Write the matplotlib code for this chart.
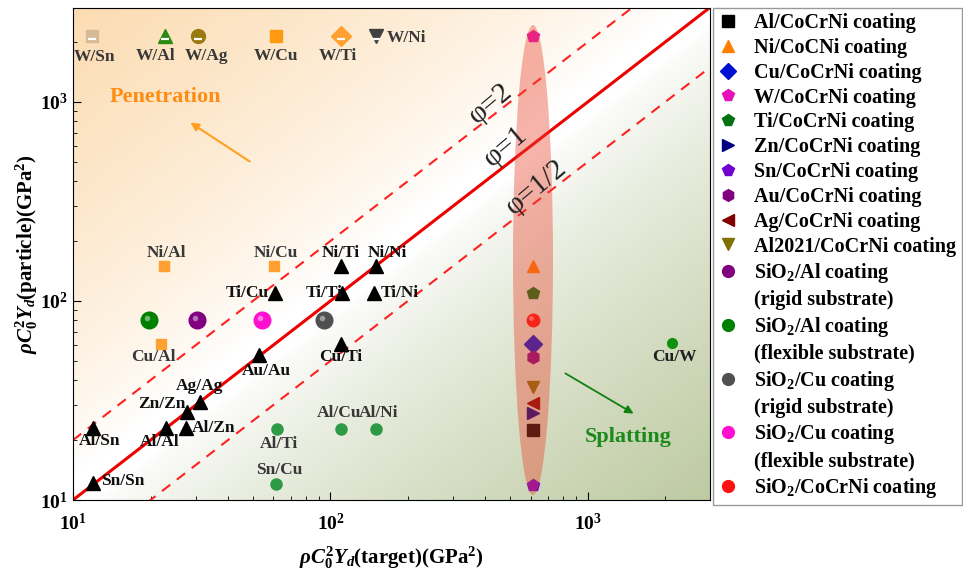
import numpy as np
import matplotlib
matplotlib.use('Agg')
import matplotlib.pyplot as plt
from matplotlib.lines import Line2D
from matplotlib.patches import Ellipse
from matplotlib.transforms import offset_copy

plt.rcParams['font.family'] = ['Liberation Serif', 'DejaVu Serif']
plt.rcParams['mathtext.fontset'] = 'custom'
plt.rcParams['mathtext.rm'] = 'Liberation Serif:bold'
plt.rcParams['mathtext.it'] = 'Liberation Serif:italic:bold'
plt.rcParams['mathtext.bf'] = 'Liberation Serif:bold'

# ---- data (target, particle) in GPa^2 ----
tri_labels = ['Ni/Ti', 'Ni/Ni', 'Ti/Cu', 'Ti/Ti', 'Ti/Ni', 'Cu/Ti', 'Au/Au',
              'Ag/Ag', 'Zn/Zn', 'Al/Zn', 'Al/Al', 'Al/Sn', 'Sn/Sn']
tri_x = [110, 150, 61, 111, 148, 110, 53, 31, 27.8, 27.5, 23, 12, 12]
tri_y = [150, 150, 110, 110, 110, 61, 53.5, 31, 27.8, 22.9, 22.9, 22.9, 12.2]

sq_labels = ['Ni/Al', 'Ni/Cu', 'Cu/Al']
sq_x = [22.6, 60.5, 22]
sq_y = [150, 150, 61]

dot_labels = ['Al/Ti', 'Al/Cu', 'Al/Ni', 'Sn/Cu', 'Cu/W']
dot_x = [62, 110, 150, 61.4, 2130]
dot_y = [22.7, 22.7, 22.7, 12, 61.6]

w_labels = ['W/Sn', 'W/Al', 'W/Ag', 'W/Cu', 'W/Ti', 'W/Ni']
w_x = [11.9, 22.8, 30.5, 61.4, 110, 150]
w_y = [2150, 2150, 2150, 2150, 2150, 2150]

sio2_names = ['SiO2/Al flexible', 'SiO2/Al rigid', 'SiO2/Cu flexible', 'SiO2/Cu rigid']
sio2_x = [19.7, 30.4, 54, 94.5]
sio2_y = [80, 80, 80, 80]

# CoCrNi coatings (all on the same target)
coat_names = ['Al', 'Ni', 'Cu', 'W', 'Ti', 'Zn', 'Sn', 'Au', 'Ag', 'Al2021', 'SiO2']
coat_x = 610
coat_y = [22.5, 150, 61, 2130, 109, 27.3, 11.9, 52.5, 30.6, 37, 80]

phi_values = [2, 1, 0.5]

# ---- styles ----
coat_style = {
    'Al': ('s', 'black'), 'Ni': ('^', '#ff7f00'), 'Cu': ('D', '#0010d0'),
    'W': ('p', '#e810b8'), 'Ti': ('p', '#007010'), 'Zn': ('>', '#000080'),
    'Sn': ('p', '#7000d0'), 'Au': ('h', '#800080'), 'Ag': ('<', '#800000'),
    'Al2021': ('v', '#807000'), 'SiO2': ('o', '#ff1010'),
}
sio2_color = {'SiO2/Al flexible': '#008000', 'SiO2/Al rigid': '#800080',
              'SiO2/Cu flexible': '#ff10d0', 'SiO2/Cu rigid': '#505050'}
w_style = [('s', '#d5bb98'), ('^', '#2a8a10'), ('o', '#9a7a10'),
           ('s', '#ff9a10'), ('D', '#ffa030'), ('v', '#404040')]

tri_off = {'Ni/Ti': (0, 13, 'center'), 'Ni/Ni': (12, 13, 'center'),
           'Ti/Cu': (-6, 0, 'right'), 'Ti/Ti': (0, 0, 'right'),
           'Ti/Ni': (6, 0, 'left'), 'Cu/Ti': (0, -13, 'center'),
           'Au/Au': (7, -16, 'center'), 'Ag/Ag': (0, 16, 'center'),
           'Zn/Zn': (-2, 8, 'right'), 'Al/Zn': (6, 0, 'left'),
           'Al/Al': (-6, -14, 'center'), 'Al/Sn': (6, -13, 'center'),
           'Sn/Sn': (8, 2, 'left')}
sq_off = {'Ni/Al': (2, 13), 'Ni/Cu': (2, 13), 'Cu/Al': (-8, -13)}
dot_off = {'Al/Ti': (2, -15), 'Al/Cu': (-2, 16), 'Al/Ni': (3, 16),
           'Sn/Cu': (3, 14), 'Cu/W': (2, -14)}
w_off = [(2, -21, 'center'), (-10, -20, 'center'), (9, -20, 'center'),
         (0, -20, 'center'), (-3, -20, 'center'), (11, -2, 'left')]

gray = '#383838'

fig = plt.figure(figsize=(9.63, 5.71), dpi=100)
ax = fig.add_axes([73 / 963, 71 / 571, 637 / 963, 492 / 571])
xmin, xmax = 10, 2980
ymin, ymax = 10, 2960
ax.set_xscale('log')
ax.set_yscale('log')
ax.set_xlim(xmin, xmax)
ax.set_ylim(ymin, ymax)

# background gradient (orange top-left, white along diagonal, olive bottom-right)
n = 300
u, v = np.meshgrid(np.linspace(0, 1, n), np.linspace(0, 1, n))
t = v - u
img = np.ones((n, n, 3))
orange = np.array([252, 220, 178]) / 255
green = np.array([190, 202, 162]) / 255
wo = np.clip((t - 0.05) / 0.95, 0, 1) ** 0.75
wg = np.clip((-t - 0.03) / 0.97, 0, 1) ** 0.75
for c in range(3):
    img[..., c] = 1 - wo * (1 - orange[c]) - wg * (1 - green[c])
ax.imshow(img, extent=[0, 1, 0, 1], transform=ax.transAxes, origin='lower',
          aspect='auto', zorder=0, interpolation='bilinear')

# phi lines
xs = np.array([xmin, xmax])
for phi in phi_values:
    if phi == 1:
        ax.plot(xs, xs * phi, color='#ee0000', lw=2.2, zorder=2)
    else:
        ax.plot(xs, xs * phi, color='#ff2020', lw=1.5, ls=(0, (5, 4)), zorder=2)

for txt, px, py in [('φ=2', 491, 104), ('φ=1', 506, 147), ('φ=1/2', 537, 187)]:
    fig.text(px / 963, 1 - py / 571, txt, fontsize=21, rotation=40,
             ha='center', va='center', color='#202020')

lab_kw = dict(textcoords='offset pixels', fontsize=12.5, fontweight='bold', va='center', zorder=6)

# black triangles
ax.plot(tri_x, tri_y, '^', color='black', ms=10, ls='none', zorder=5)
for lab, x, y in zip(tri_labels, tri_x, tri_y):
    dx, dy, ha = tri_off[lab]
    ax.annotate(lab, (x, y), xytext=(dx, dy), ha=ha, color='#101010', **lab_kw)

# orange squares
ax.plot(sq_x, sq_y, 's', color='#ffa030', ms=7.5, ls='none', zorder=5)
for lab, x, y in zip(sq_labels, sq_x, sq_y):
    dx, dy = sq_off[lab]
    ax.annotate(lab, (x, y), xytext=(dx, dy), ha='center', color=gray, **lab_kw)

# green dots
ax.plot(dot_x[:-1], dot_y[:-1], 'o', color='#2e9a45', ms=8, ls='none', zorder=5)
ax.plot(dot_x[-1:], dot_y[-1:], 'o', color='#109010', ms=7, ls='none', zorder=5)
for lab, x, y in zip(dot_labels, dot_x, dot_y):
    dx, dy = dot_off[lab]
    col = '#202020' if lab == 'Cu/W' else gray
    ax.annotate(lab, (x, y), xytext=(dx, dy), ha='center', color=col, **lab_kw)

# W particles (top row)
down = offset_copy(ax.transData, fig=fig, x=0, y=-3, units='dots')
for (m, col), lab, x, y, (dx, dy, ha) in zip(w_style, w_labels, w_x, w_y, w_off):
    ax.plot([x], [y], m, color=col, ms=10 if m != 's' else 9, zorder=5)
    if lab != 'W/Cu':
        ax.plot([x], [y], '_', color='white', ms=6, mew=1.6, transform=down, zorder=6)
    ax.annotate(lab, (x, y), xytext=(dx, dy), ha=ha, color=gray, **lab_kw)

# SiO2 spheres
hl = offset_copy(ax.transData, fig=fig, x=-2, y=2, units='dots')
for name, x, y in zip(sio2_names, sio2_x, sio2_y):
    ax.plot([x], [y], 'o', color=sio2_color[name], ms=12, zorder=5)
    ax.plot([x], [y], 'o', color='white', alpha=0.45, ms=4, mew=0, transform=hl, zorder=6)

# CoCrNi coatings + ellipse
for name, y in zip(coat_names, coat_y):
    m, col = coat_style[name]
    ax.plot([coat_x], [y], m, color=col, ms=9, zorder=5)
    if name == 'SiO2':
        ax.plot([coat_x], [y], 'o', color='white', alpha=0.45, ms=3.5, mew=0, transform=hl, zorder=6)
ell = Ellipse(((533 - 73) / 637, (500 - 260) / 492), 40 / 637, 470 / 492,
              transform=ax.transAxes, facecolor='#e9432c', alpha=0.4,
              edgecolor='none', zorder=7)
ax.add_patch(ell)

# region labels and arrows
fig.text(165 / 963, 1 - 97 / 571, 'Penetration', fontsize=16, fontweight='bold',
         color='#ff8c10', ha='center', va='center')
fig.text(628 / 963, 1 - 437 / 571, 'Splatting', fontsize=16, fontweight='bold',
         color='#1a8a1a', ha='center', va='center')
ax.annotate('', xy=(188 / 963, 1 - 121 / 571), xytext=(252 / 963, 1 - 163 / 571),
            xycoords='figure fraction', textcoords='figure fraction',
            arrowprops=dict(arrowstyle='-|>', color='#ffa020', lw=1.5, mutation_scale=12))
ax.annotate('', xy=(636 / 963, 1 - 415 / 571), xytext=(563 / 963, 1 - 372 / 571),
            xycoords='figure fraction', textcoords='figure fraction',
            arrowprops=dict(arrowstyle='-|>', color='#108010', lw=1.3, mutation_scale=12))

# axes styling
ax.tick_params(which='both', direction='in', top=False, right=False)
ax.tick_params(which='major', length=6, labelsize=14)
ax.tick_params(axis='x', which='major', pad=9)
ax.tick_params(which='minor', length=3)
for lbl in ax.get_xticklabels() + ax.get_yticklabels():
    lbl.set_fontweight('bold')
ax.set_xlabel(r'$\rho C_0^2Y_d$(target)(GPa$^2$)', fontsize=15, fontweight='bold', labelpad=8)
ax.set_ylabel(r'$\rho C_0^2Y_d$(particle)(GPa$^2$)', fontsize=15, fontweight='bold', labelpad=0)

# legend
handles = []
labels = []
for name, text in [('Al', 'Al/CoCrNi coating'), ('Ni', 'Ni/CoCNi coating'),
                   ('Cu', 'Cu/CoCrNi coating'), ('W', 'W/CoCrNi coating'),
                   ('Ti', 'Ti/CoCrNi coating'), ('Zn', 'Zn/CoCrNi coating'),
                   ('Sn', 'Sn/CoCrNi coating'), ('Au', 'Au/CoCrNi coating'),
                   ('Ag', 'Ag/CoCrNi coating'), ('Al2021', 'Al2021/CoCrNi coating')]:
    m, col = coat_style[name]
    handles.append(Line2D([], [], marker=m, color=col, ls='none', ms=8.5))
    labels.append(text)
blank = Line2D([], [], ls='none')
for name, first, second in [('SiO2/Al rigid', r'SiO$_2$/Al coating', '(rigid substrate)'),
                            ('SiO2/Al flexible', r'SiO$_2$/Al coating', '(flexible substrate)'),
                            ('SiO2/Cu rigid', r'SiO$_2$/Cu coating', '(rigid substrate)'),
                            ('SiO2/Cu flexible', r'SiO$_2$/Cu coating', '(flexible substrate)')]:
    handles.append(Line2D([], [], marker='o', color=sio2_color[name], ls='none', ms=8.5))
    labels.append(first)
    handles.append(blank)
    labels.append(second)
handles.append(Line2D([], [], marker='o', color='#ff1010', ls='none', ms=8.5))
labels.append(r'SiO$_2$/CoCrNi coating')

leg = ax.legend(handles, labels, loc='upper left', bbox_to_anchor=(1.005, 1.0),
                borderaxespad=0, frameon=True, fancybox=False, edgecolor='#808080',
                prop={'weight': 'bold', 'size': 14.5}, labelspacing=0.24,
                handlelength=1.0, handletextpad=0.8, borderpad=0.25)
leg.get_frame().set_linewidth(1.0)

fig.savefig('out.png', dpi=100)
